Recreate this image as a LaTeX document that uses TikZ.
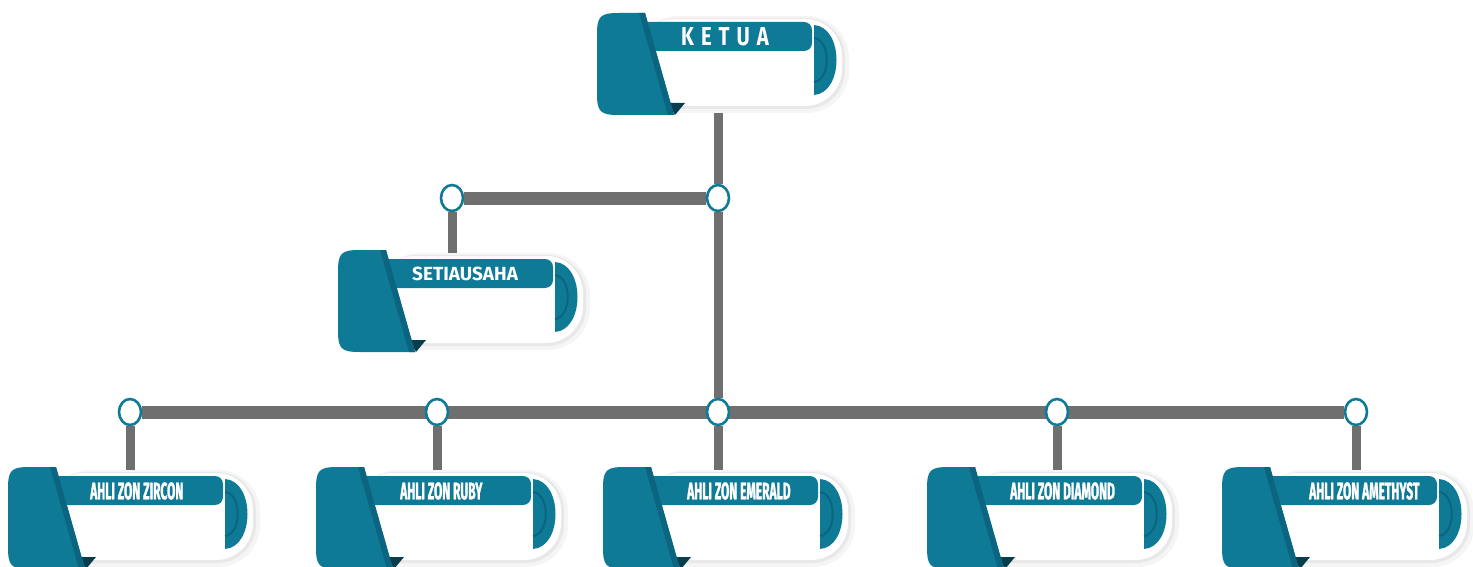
\documentclass[tikz,border=0pt]{standalone}
\usepackage{fontspec}
\setmainfont{Fira Sans}
\newfontfamily\ketuafont[FakeStretch=0.78]{Fira Sans}
\newfontfamily\condfont[FakeStretch=0.5, BoldFeatures={FakeBold=1.2}]{Fira Sans}
\usetikzlibrary{shapes.geometric}
\definecolor{tealc}{HTML}{0F7A96}
\definecolor{tealdark}{HTML}{0B6580}
\definecolor{tealdeep}{HTML}{073E4E}
\definecolor{linegray}{HTML}{6F6F6F}
\pgfdeclarelayer{bg}
\pgfdeclarelayer{lines}
\pgfsetlayers{bg,lines,main}
\tikzset{
  boxframe/.style={draw=none, minimum width=246pt, minimum height=102pt, inner sep=0pt, anchor=north west},
  joint/.style={ellipse, draw=tealc, line width=2.6pt, fill=white, minimum width=22pt, minimum height=26pt, inner sep=0pt},
  vbar/.style={draw=linegray, line width=9pt},
  hbar/.style={draw=linegray, line width=13pt},
  ketuatext/.style={text=white, font=\ketuafont\fontsize{26}{26}\selectfont, anchor=west, inner sep=0pt},
  setiatext/.style={text=white, font=\bfseries\fontsize{19}{19}\selectfont, anchor=west, inner sep=0pt},
  zontext/.style={text=white, font=\condfont\bfseries\fontsize{24}{24}\selectfont, anchor=west, inner sep=0pt},
}
\newcommand\orgbox[5]{%
  \node[boxframe] (#1) at (#2) {};
  \begin{scope}[shift={(#1.north west)}]
    \fill[black!4, rounded corners=42pt] (40,3) rectangle (252,100);
    \fill[black!9, rounded corners=39pt] (40,5) rectangle (248,96);
    \fill[white, rounded corners=37pt] (40,6) rectangle (245,93);
    \fill[tealc, rounded corners=8pt] (44,9) rectangle (215,38);
    \fill[tealc] (217,12) -- (217,82) .. controls (247,80) and (247,14) .. (217,12) -- cycle;
    \draw[tealdark, line width=2pt] (217,25) .. controls (234,27) and (234,67) .. (217,69);
    \fill[tealdeep] (71,90) -- (88,90) -- (78,102) -- cycle;
    \fill[tealc] (0,22) .. controls (0,3) and (3,0) .. (22,0) -- (48,0) -- (77,102) -- (22,102) .. controls (3,102) and (0,99) .. (0,80) -- cycle;
    \fill[tealdark] (42,0) -- (48,0) -- (77,102) -- (71,102) -- cycle;
    \node[#3] (#1-label) at (#4,24) {#5};
  \end{scope}}
\begin{document}
\begin{tikzpicture}[x=1pt, y=-1pt]
\useasboundingbox (0,0) rectangle (1473,567);
\clip (0,0) rectangle (1473,567);
\begin{pgfonlayer}{bg}
\fill[white] (0,0) rectangle (1473,567);
\end{pgfonlayer}

\orgbox{ketua}{597,13}{ketuatext}{84}{\bfseries K\hspace{7pt}E\hspace{7pt}T\hspace{7pt}U\hspace{7pt}A}
\orgbox{setia}{338,250}{setiatext}{74}{SETIAUSAHA}
\orgbox{zircon}{8,467}{zontext}{82}{AHLI ZON ZIRCON}
\orgbox{ruby}{316,467}{zontext}{84}{AHLI ZON RUBY}
\orgbox{emerald}{603,467}{zontext}{84}{AHLI ZON EMERALD}
\orgbox{diamond}{927,467}{zontext}{83}{AHLI ZON DIAMOND}
\orgbox{amethyst}{1222,467}{zontext}{87}{AHLI ZON AMETHYST}

\node[joint] (c0) at (718,198) {};
\node[joint] (cs) at (452,198) {};
\node[joint] (cz) at (130,412) {};
\node[joint] (cr) at (437,412) {};
\node[joint] (ce) at (718,412) {};
\node[joint] (cd) at (1057,412) {};
\node[joint] (ca) at (1356,412) {};

\begin{pgfonlayer}{lines}
\draw[vbar] (c0 |- ketua.center) -- (c0);
\draw[vbar] (c0) -- (ce);
\draw[hbar] (cs) -- (c0);
\draw[vbar] (cs) -- (cs |- setia.center);
\draw[hbar] (cz) -- (ca);
\draw[vbar] (cz) -- (cz |- zircon.center);
\draw[vbar] (cr) -- (cr |- ruby.center);
\draw[vbar] (ce) -- (ce |- emerald.center);
\draw[vbar] (cd) -- (cd |- diamond.center);
\draw[vbar] (ca) -- (ca |- amethyst.center);
\end{pgfonlayer}
\end{tikzpicture}
\end{document}
